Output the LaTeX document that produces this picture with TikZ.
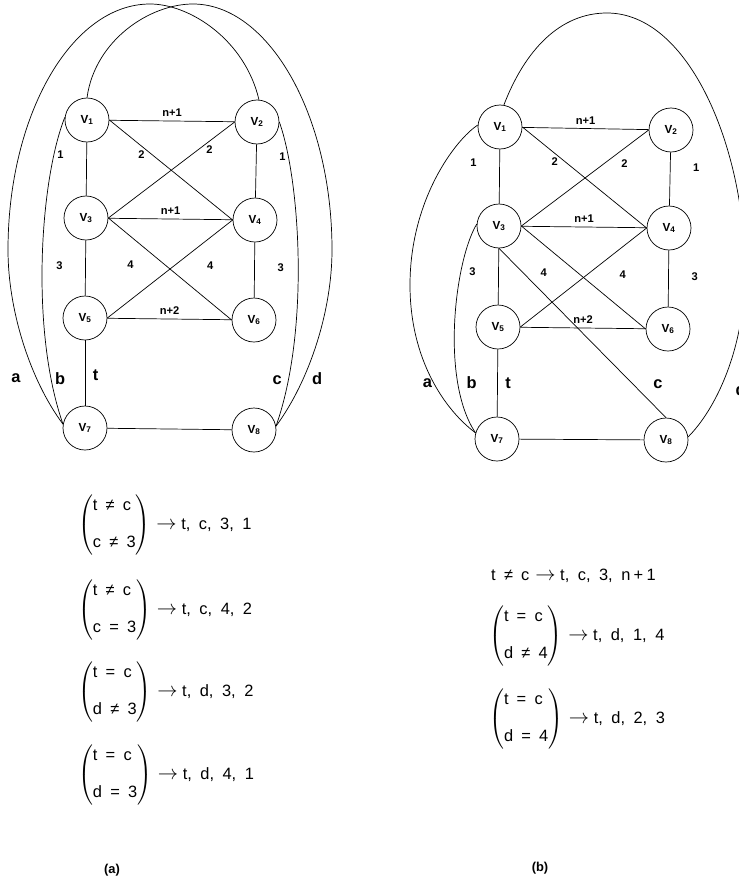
\documentclass[tikz,border=0pt]{standalone}
\usepackage{fontspec}
\setmainfont{Liberation Sans}
\usepackage{amsmath}
\newcommand{\sepg}{\hspace{0.52em}}
\newcommand{\sepn}{\hspace{0.5em}}
\newcommand{\implto}{\hspace{5pt}{\fontsize{17}{17}\selectfont$\rightarrow$}\hspace{4pt}}

\begin{document}
\begin{tikzpicture}[
  x=0.03cm, y=-0.03cm,
  vtx/.style={draw, circle, line width=0.6pt, minimum size=1.32cm, inner sep=0pt,
    font=\fontsize{10}{12}\selectfont\bfseries},
  ln/.style={line width=0.6pt},
  lab/.style={font=\fontsize{9.5}{11}\selectfont\bfseries},
  clab/.style={font=\fontsize{14}{16}\selectfont\bfseries},
  cond/.style={font=\fontsize{14}{16.8}\selectfont, inner sep=0pt, anchor=west},
  captxt/.style={font=\fontsize{11}{13}\selectfont\bfseries}
]
  \useasboundingbox (0,0) rectangle (739,892);

  % --- Graph (a) ---
  \node[vtx] (a1) at (87,120) {V\textsubscript{1}};
  \node[vtx] (a2) at (257,122) {V\textsubscript{2}};
  \node[vtx] (a3) at (86,218) {V\textsubscript{3}};
  \node[vtx] (a4) at (255,220) {V\textsubscript{4}};
  \node[vtx] (a5) at (85,318) {V\textsubscript{5}};
  \node[vtx] (a6) at (254,320) {V\textsubscript{6}};
  \node[vtx] (a7) at (85,428) {V\textsubscript{7}};
  \node[vtx] (a8) at (254,430) {V\textsubscript{8}};

  \draw[ln] (a1) -- node[lab, above] {n+1} (a2);
  \draw[ln] (a1) -- node[lab, pos=0.24, left=16pt] {1} (a3);
  \draw[ln] (a2) -- node[lab, pos=0.24, right=16pt] {1} (a4);
  \draw[ln] (a1.east) -- node[lab, pos=0.26, below] {2} (a4.west);
  \draw[ln] (a2.west) -- node[lab, pos=0.2, below] {2} (a3.east);
  \draw[ln] (a3) -- node[lab, above] {n+1} (a4);
  \draw[ln] (a3) -- node[lab, pos=0.45, left=16pt] {3} (a5);
  \draw[ln] (a4) -- node[lab, pos=0.45, right=16pt] {3} (a6);
  \draw[ln] (a3.east) -- node[lab, pos=0.18, below=17pt] {4} (a6.west);
  \draw[ln] (a4.west) -- node[lab, pos=0.18, below=17pt] {4} (a5.east);
  \draw[ln] (a5) -- node[lab, above] {n+2} (a6);
  \draw[ln] (a5) -- node[clab, pos=0.53, right=3pt] {t} (a7);
  \draw[ln] (a7) -- (a8);

  % outer arcs
  \draw[ln] (a7.170) .. controls (30,380) and (8,310) .. (8,250)
    node[clab, pos=0.3, left=10pt] {a}
    .. controls (8,114) and (72,4) .. (150,4)
    .. controls (190,4) and (245,40) .. (a2.85);
  \draw[ln] (a1.173) .. controls (40,180) and (30,330) .. (a7.170)
    node[clab, pos=0.85, right] {b};
  \draw[ln] (a2.0) .. controls (300,180) and (310,330) .. (a8.10)
    node[clab, pos=0.85, left=2pt] {c};
  \draw[ln] (a1.90) .. controls (95,40) and (150,4) .. (193,4)
    .. controls (268,4) and (332,114) .. (332,250)
    .. controls (332,310) and (310,380) .. (a8.10)
    node[clab, pos=0.7, right=4pt] {d};

  % --- Graph (b) ---
  \node[vtx] (b1) at (500,127) {V\textsubscript{1}};
  \node[vtx] (b2) at (671,130) {V\textsubscript{2}};
  \node[vtx] (b3) at (499,226) {V\textsubscript{3}};
  \node[vtx] (b4) at (669,228) {V\textsubscript{4}};
  \node[vtx] (b5) at (498,327) {V\textsubscript{5}};
  \node[vtx] (b6) at (668,329) {V\textsubscript{6}};
  \node[vtx] (b7) at (497,439) {V\textsubscript{7}};
  \node[vtx] (b8) at (666,440) {V\textsubscript{8}};

  \draw[ln] (b1) -- node[lab, above] {n+1} (b2);
  \draw[ln] (b1) -- node[lab, pos=0.25, left=16pt] {1} (b3);
  \draw[ln] (b2) -- node[lab, pos=0.28, right=16pt] {1} (b4);
  \draw[ln] (b1.east) -- node[lab, pos=0.26, below] {2} (b4.west);
  \draw[ln] (b2.west) -- node[lab, pos=0.19, below=6pt] {2} (b3.east);
  \draw[ln] (b3) -- node[lab, above] {n+1} (b4);
  \draw[ln] (b3) -- node[lab, pos=0.42, left=16pt] {3} (b5);
  \draw[ln] (b4) -- node[lab, pos=0.47, right=16pt] {3} (b6);
  \draw[ln] (b3.east) -- node[lab, pos=0.18, below=17pt] {4} (b6.west);
  \draw[ln] (b4.west) -- node[lab, pos=0.19, below=17pt] {4} (b5.east);
  \draw[ln] (b5) -- node[lab, above] {n+2} (b6);
  \draw[ln] (b5) -- node[clab, pos=0.5, right=3pt] {t} (b7);
  \draw[ln] (b7) -- (b8);
  \draw[ln] (b3.south) -- node[clab, pos=0.8, right=14pt] {c} (b8.north);

  % outer arcs
  \draw[ln] (b1.175) .. controls (455,140) and (410,200) .. (410,285)
    .. controls (410,360) and (445,410) .. (b7.164)
    node[clab, pos=0.53, left, inner sep=1pt] {a};
  \draw[ln] (b3.175) .. controls (455,260) and (440,380) .. (b7.164)
    node[clab, pos=0.75, right=4pt] {b};
  \draw[ln] (b1.80) .. controls (525,50) and (560,13) .. (607,13)
    .. controls (690,13) and (745,150) .. (745,270)
    .. controls (745,350) and (715,410) .. (b8.8)
    node[clab, pos=0.6, right=10pt] {d};

  % --- Conditions (a) ---
  \node[cond] (fa1) at (78,525)
    {$\left(\begin{array}{@{}l@{}}\text{t\sepn≠\sepn c}\\[15pt]\text{c\sepn≠\sepn 3}\end{array}\right)$\implto t,\sepg c,\sepg 3,\sepg 1};
  \node[cond] (fa2) at (78,610)
    {$\left(\begin{array}{@{}l@{}}\text{t\sepn≠\sepn c}\\[15pt]\text{c\sepn=\sepn 3}\end{array}\right)$\implto t,\sepg c,\sepg 4,\sepg 2};
  \node[cond] (fa3) at (78,692)
    {$\left(\begin{array}{@{}l@{}}\text{t\sepn=\sepn c}\\[15pt]\text{d\sepn≠\sepn 3}\end{array}\right)$\implto t,\sepg d,\sepg 3,\sepg 2};
  \node[cond] (fa4) at (78,775)
    {$\left(\begin{array}{@{}l@{}}\text{t\sepn=\sepn c}\\[15pt]\text{d\sepn=\sepn 3}\end{array}\right)$\implto t,\sepg d,\sepg 4,\sepg 1};

  % --- Conditions (b) ---
  \node[cond] (fb1) at (491,576)
    {t\sepn≠\sepn c\implto t,\sepg c,\sepg 3,\sepg n\hspace{0.2em}+\hspace{0.2em}1};
  \node[cond] (fb2) at (489,636)
    {$\left(\begin{array}{@{}l@{}}\text{t\sepn=\sepn c}\\[15pt]\text{d\sepn≠\sepn 4}\end{array}\right)$\implto t,\sepg d,\sepg 1,\sepg 4};
  \node[cond] (fb3) at (489,719)
    {$\left(\begin{array}{@{}l@{}}\text{t\sepn=\sepn c}\\[15pt]\text{d\sepn=\sepn 4}\end{array}\right)$\implto t,\sepg d,\sepg 2,\sepg 3};

  % --- Captions ---
  \node[captxt] (capa) at (112,870) {(a)};
  \node[captxt] (capb) at (540,868) {(b)};
\end{tikzpicture}
\end{document}
